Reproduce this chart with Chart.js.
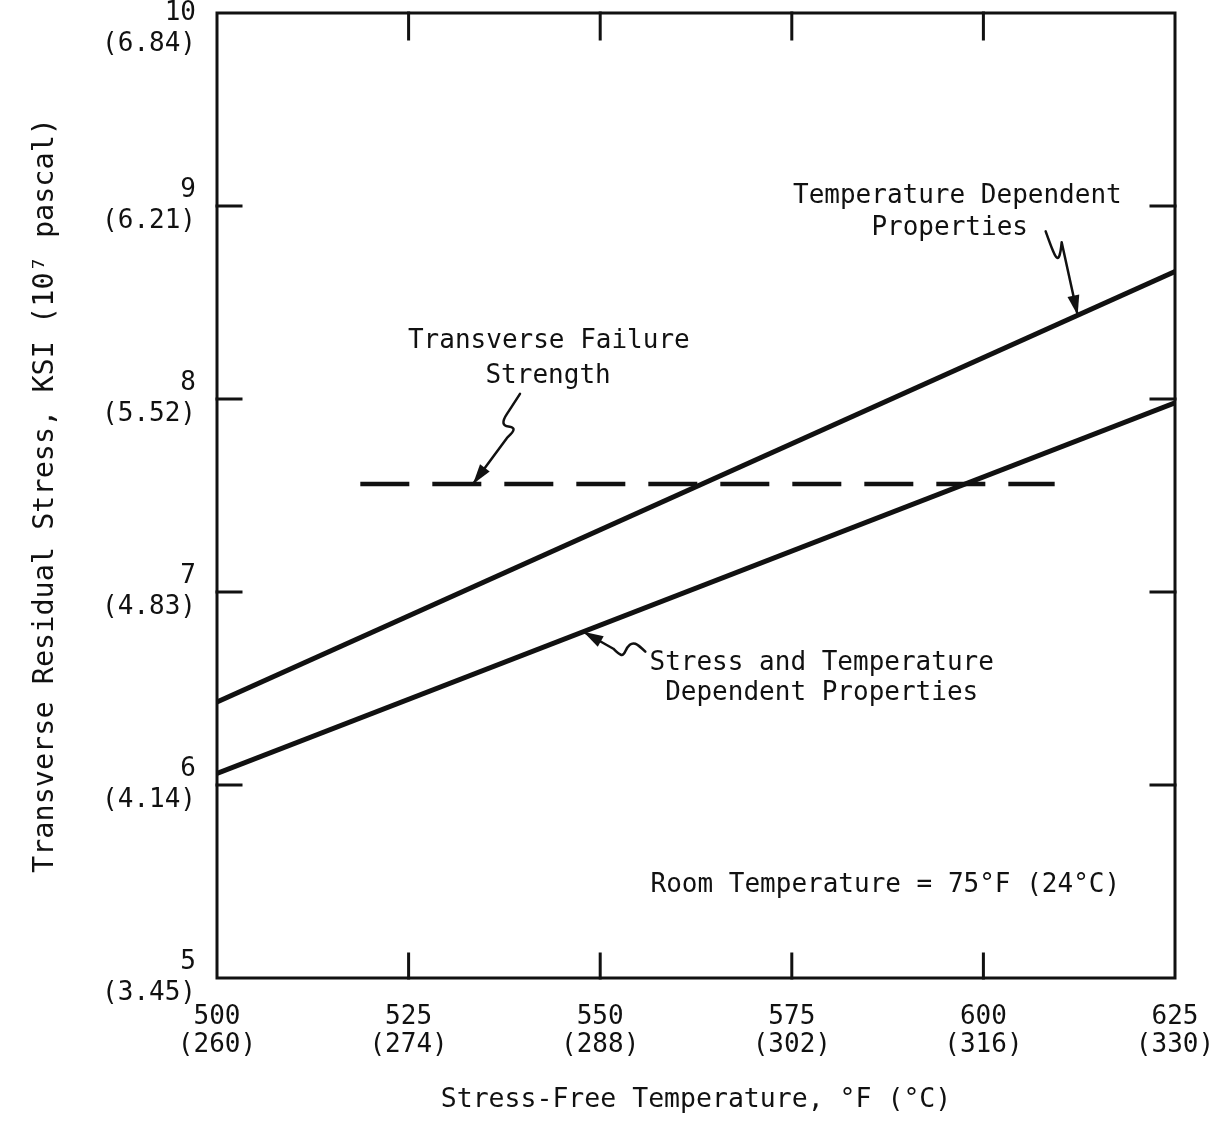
<!DOCTYPE html>
<html>
<head>
<meta charset="utf-8">
<script src="https://cdn.jsdelivr.net/npm/chart.js@4.4.1/dist/chart.umd.min.js"></script>
<style>
  html, body { margin: 0; padding: 0; background: #fff; }
  #wrap { width: 1232px; height: 1133px; }
</style>
</head>
<body>
<div id="wrap"><canvas id="stressChart"></canvas></div>
<script>
// values
const tempF = [500, 625];
const tempDependent = [6.43, 8.66];
const stressTempDependent = [6.06, 7.98];
const failureF = [518.7, 609.3];
const failureStrength = [7.56, 7.56];

const xTicksF = [500, 525, 550, 575, 600, 625];
const xTicksC = ['260', '274', '288', '302', '316', '330'];
const yTicksKsi = [5, 6, 7, 8, 9, 10];
const yTicksPa = ['3.45', '4.14', '4.83', '5.52', '6.21', '6.84'];

const FONT = "'DejaVu Sans Mono', monospace";
const INK = '#111';

// text notes placed in data units
const notes = [
  { text: 'Temperature Dependent', x: 596.6, y: 9.05 },
  { text: 'Properties', x: 595.6, y: 8.886 },
  { text: 'Transverse Failure', x: 543.3, y: 8.30 },
  { text: 'Strength', x: 543.2, y: 8.12 },
  { text: 'Stress and Temperature', x: 578.9, y: 6.63 },
  { text: 'Dependent Properties', x: 578.9, y: 6.475 },
  { text: 'Room Temperature = 75°F (24°C)', x: 587.2, y: 5.48 }
];

function lineAt(xs, ys, x) {
  const t = (x - xs[0]) / (xs[1] - xs[0]);
  return ys[0] + t * (ys[1] - ys[0]);
}

// squiggly pointer arrows: tip sits on a curve, tail offsets in px
const pointers = [
  { x: 612.3, y: lineAt(tempF, tempDependent, 612.3),
    path: [[-32, -84], [-27, -70], [-22, -58], [-19, -57], [-17, -64], [-16, -73], [0, 0]] },
  { x: 533.4, y: failureStrength[0],
    path: [[47, -90], [38, -76], [30, -64], [31, -58], [40, -57], [41, -53], [34, -46], [0, 0]] },
  { x: 547.8, y: lineAt(tempF, stressTempDependent, 547.8),
    path: [[62, 20], [55, 13], [49, 11], [44, 15], [40, 24], [35, 22], [30, 17], [0, 0]] }
];

const framePlugin = {
  id: 'frame',
  afterDraw(chart) {
    const { ctx, chartArea: a, scales: { x, y } } = chart;
    ctx.save();
    ctx.strokeStyle = INK;
    ctx.lineWidth = 3;
    ctx.lineCap = 'square';
    ctx.strokeRect(a.left, a.top, a.right - a.left, a.bottom - a.top);

    // inward tick marks on all four sides
    ctx.beginPath();
    xTicksF.slice(1, -1).forEach(v => {
      const px = x.getPixelForValue(v);
      ctx.moveTo(px, a.top); ctx.lineTo(px, a.top + 26);
      ctx.moveTo(px, a.bottom); ctx.lineTo(px, a.bottom - 24);
    });
    yTicksKsi.slice(1, -1).forEach(v => {
      const py = y.getPixelForValue(v);
      ctx.moveTo(a.left, py); ctx.lineTo(a.left + 24, py);
      ctx.moveTo(a.right, py); ctx.lineTo(a.right - 24, py);
    });
    ctx.stroke();

    // notes
    ctx.fillStyle = INK;
    ctx.font = '26px ' + FONT;
    ctx.textAlign = 'center';
    ctx.textBaseline = 'middle';
    notes.forEach(n => ctx.fillText(n.text, x.getPixelForValue(n.x), y.getPixelForValue(n.y)));

    // pointers
    ctx.lineWidth = 2.5;
    ctx.lineJoin = 'round';
    ctx.lineCap = 'round';
    pointers.forEach(p => {
      const tx = x.getPixelForValue(p.x), ty = y.getPixelForValue(p.y);
      const pts = p.path.map(([dx, dy]) => [tx + dx, ty + dy]);
      ctx.beginPath();
      ctx.moveTo(pts[0][0], pts[0][1]);
      for (let i = 1; i < pts.length - 2; i++) {
        const mx = (pts[i][0] + pts[i + 1][0]) / 2, my = (pts[i][1] + pts[i + 1][1]) / 2;
        ctx.quadraticCurveTo(pts[i][0], pts[i][1], mx, my);
      }
      ctx.lineTo(pts[pts.length - 2][0], pts[pts.length - 2][1]);
      ctx.lineTo(tx, ty);
      ctx.stroke();
      const [px, py] = pts[pts.length - 2];
      const ang = Math.atan2(ty - py, tx - px);
      const len = 20, half = 6;
      ctx.beginPath();
      ctx.moveTo(tx, ty);
      ctx.lineTo(tx - len * Math.cos(ang) + half * Math.sin(ang), ty - len * Math.sin(ang) - half * Math.cos(ang));
      ctx.lineTo(tx - len * Math.cos(ang) - half * Math.sin(ang), ty - len * Math.sin(ang) + half * Math.cos(ang));
      ctx.closePath();
      ctx.fill();
    });
    ctx.restore();
  }
};

const ctxStress = document.getElementById('stressChart').getContext('2d');
const stressChart = new Chart(ctxStress, {
  type: 'scatter',
  data: {
    datasets: [
      {
        label: 'Temperature Dependent Properties',
        data: tempF.map((f, i) => ({ x: f, y: tempDependent[i] })),
        showLine: true, borderColor: INK, borderWidth: 5, pointRadius: 0
      },
      {
        label: 'Stress and Temperature Dependent Properties',
        data: tempF.map((f, i) => ({ x: f, y: stressTempDependent[i] })),
        showLine: true, borderColor: INK, borderWidth: 5, pointRadius: 0
      },
      {
        label: 'Transverse Failure Strength',
        data: failureF.map((f, i) => ({ x: f, y: failureStrength[i] })),
        showLine: true, borderColor: INK, borderWidth: 4.5, pointRadius: 0,
        borderDash: [49, 23]
      }
    ]
  },
  options: {
    responsive: true,
    maintainAspectRatio: false,
    animation: false,
    layout: { padding: { top: 13, right: 57, left: 0, bottom: 0 } },
    plugins: { legend: { display: false }, tooltip: { enabled: false } },
    scales: {
      x: {
        type: 'linear', min: 500, max: 625,
        afterBuildTicks: s => { s.ticks = xTicksF.map(v => ({ value: v })); },
        afterFit: s => { s.height = 155; s.paddingLeft = 0; s.paddingRight = 0; },
        grid: { display: false, drawTicks: false },
        border: { display: false },
        ticks: {
          maxRotation: 0, autoSkip: false, padding: 25, color: INK,
          font: { family: FONT, size: 26, lineHeight: 1.08 },
          callback: v => [String(v), '(' + xTicksC[xTicksF.indexOf(v)] + ')']
        },
        title: {
          display: true, text: 'Stress-Free Temperature, °F (°C)', color: INK,
          font: { family: FONT, size: 26.5, lineHeight: 1.2 },
          padding: { top: 0, bottom: 17 }
        }
      },
      y: {
        type: 'linear', min: 5, max: 10,
        afterBuildTicks: s => { s.ticks = yTicksKsi.map(v => ({ value: v })); },
        afterFit: s => { s.width = 217; s.paddingTop = 0; s.paddingBottom = 0; },
        grid: { display: false, drawTicks: false },
        border: { display: false },
        ticks: {
          autoSkip: false, padding: 21, color: INK,
          font: { family: FONT, size: 26, lineHeight: 1.2 },
          callback: v => {
            const lbl = [String(v), '(' + yTicksPa[yTicksKsi.indexOf(v)] + ')'];
            return v === 10 ? [''].concat(lbl) : lbl;
          }
        },
        title: {
          display: true, text: 'Transverse Residual Stress, KSI (10⁷ pascal)', color: INK,
          font: { family: FONT, size: 28.5, lineHeight: 1.2 },
          padding: { top: 28, bottom: 0 }
        }
      }
    }
  },
  plugins: [framePlugin]
});
</script>
</body>
</html>
